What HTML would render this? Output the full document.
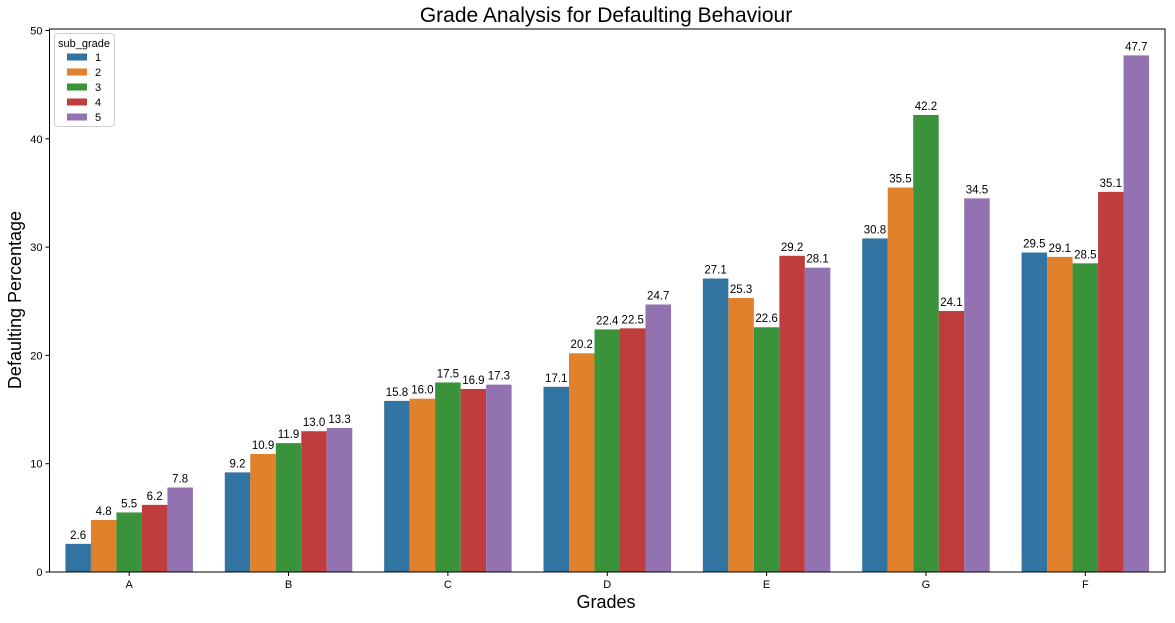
<!DOCTYPE html>
<html><head><meta charset="utf-8"><style>
body{margin:0;background:#fff;font-family:"Liberation Sans",sans-serif}
</style></head><body>
<svg id="chart" width="1175" height="618" xmlns="http://www.w3.org/2000/svg" font-family="Liberation Sans, sans-serif">
<rect width="1175" height="618" fill="#fff"/>
<text x="606" y="22" text-anchor="middle" font-size="21" fill="#000">Grade Analysis for Defaulting Behaviour</text>
<g id="bars"></g><g id="axes"></g>
<text x="606" y="608" text-anchor="middle" font-size="18">Grades</text>
<text transform="translate(21,300) rotate(-90)" text-anchor="middle" font-size="18">Defaulting Percentage</text>
<g id="legend"></g>
</svg>
<script>
const categories=["A","B","C","D","E","G","F"];
const subGrades=["1","2","3","4","5"];
const s1=[2.6,9.2,15.8,17.1,27.1,30.8,29.5];
const s2=[4.8,10.9,16.0,20.2,25.3,35.5,29.1];
const s3=[5.5,11.9,17.5,22.4,22.6,42.2,28.5];
const s4=[6.2,13.0,16.9,22.5,29.2,24.1,35.1];
const s5=[7.8,13.3,17.3,24.7,28.1,34.5,47.7];
const yTicks=[0,10,20,30,40,50];
const series=[s1,s2,s3,s4,s5];
const colors=["#3274a1","#e1812c","#3a923a","#c03d3e","#9372b2"];
const L=49.5,R=1165,T=29,B=572;
const NS="http://www.w3.org/2000/svg";
const y=v=>B-(B-30.5)*v/50;
const gw=(R-L)/categories.length;
const x=i=>L+gw*(i+0.5);
const bw=gw*0.8/5;
function mk(t,a,p){const e=document.createElementNS(NS,t);for(const k in a)e.setAttribute(k,a[k]);p.appendChild(e);return e;}
const bars=document.getElementById('bars'),axes=document.getElementById('axes'),leg=document.getElementById('legend');
series.forEach((s,j)=>s.forEach((v,i)=>{
 const bx=x(i)-gw*0.4+j*bw;
 const r=mk('rect',{x:bx,y:y(v),width:bw,height:B-y(v),fill:colors[j]},bars);
 
 
 const t=mk('text',{x:bx+bw/2,y:y(v)-5,'text-anchor':'middle','font-size':11.5},bars);
 t.textContent=v.toFixed(1);
 
 
}));
const fr=mk('rect',{x:L,y:T,width:R-L,height:B-T,fill:'none',stroke:'#000','stroke-width':1},axes);


yTicks.forEach(v=>{
 mk('line',{x1:L-4,x2:L,y1:y(v),y2:y(v),stroke:'#000'},axes);
 const t=mk('text',{x:L-7,y:y(v)+4,'text-anchor':'end','font-size':11},axes);
 t.textContent=v;
 
 
});
categories.forEach((c,i)=>{
 mk('line',{x1:x(i),x2:x(i),y1:B,y2:B+4,stroke:'#000'},axes);
 const t=mk('text',{x:x(i),y:B+16,'text-anchor':'middle','font-size':11},axes);
 t.textContent=c;
 
 
});
mk('rect',{x:54.5,y:33.5,width:60,height:93,rx:3,fill:'#fff',stroke:'#ccc'},leg);
const lt=mk('text',{x:58,y:47,'font-size':11},leg);lt.textContent='sub_grade';


subGrades.forEach((g,j)=>{
 const yy=57+j*15;
 mk('rect',{x:67,y:yy-3.5,width:20,height:7,fill:colors[j]},leg);
 const t=mk('text',{x:95,y:yy+4,'font-size':11},leg);t.textContent=g;
 
 
});
</script>
</body></html>
